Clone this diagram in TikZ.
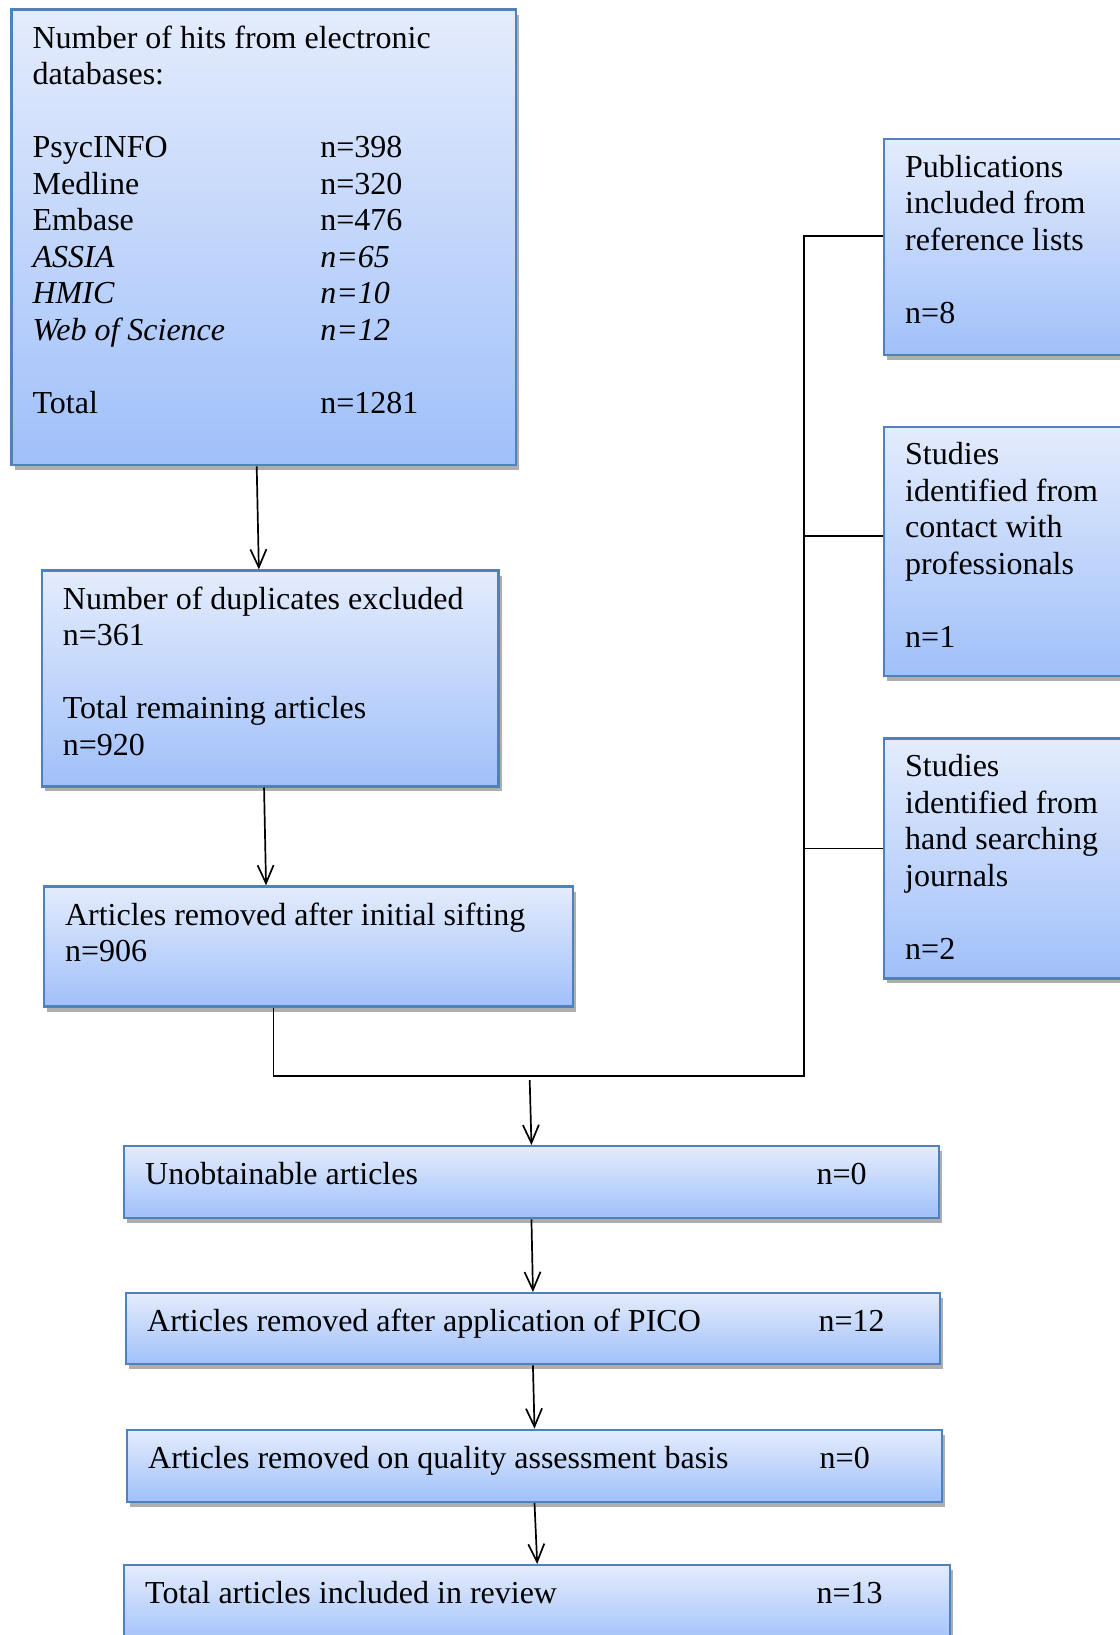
\documentclass[tikz,border=0pt]{standalone}
\usepackage{fontspec}
\setmainfont{Liberation Serif}
\usetikzlibrary{arrows.meta,shadows,calc}
\definecolor{boxtop}{RGB}{228,236,252}
\definecolor{boxbottom}{RGB}{160,192,250}
\definecolor{boxline}{RGB}{79,129,189}
\tikzset{
	flowbox/.style={draw=boxline, line width=1.2pt, top color=boxtop,
		bottom color=boxbottom, anchor=north west, inner xsep=10.5pt,
		inner ysep=8pt, drop shadow={shadow xshift=1.5pt,
		shadow yshift=-2.5pt, opacity=0.45, fill=black!70}},
	conn/.style={line width=0.85pt},
	arr/.style={conn, -{Straight Barb[length=9pt,width=8pt]}},
}
\newcommand{\boxtext}[3]{\parbox[t][#2][t]{#1}{\raggedright #3}}
\newcommand{\col}[2]{\makebox[#1][l]{#2}}
\begin{document}
\begin{tikzpicture}[x=0.5pt,y=-0.5pt,font=\fontsize{16}{18.25}\selectfont]
	\useasboundingbox (0,0) rectangle (1120,1635);
	% left column
	\node[flowbox] (hits) at (10.4,8.3) {\boxtext{231.3pt}{211.85pt}{Number
		of hits from electronic\\ databases:\\[\baselineskip]
		\col{143.9pt}{PsycINFO}n=398\\ \col{143.9pt}{Medline}n=320\\
		\col{143.9pt}{Embase}n=476\\ \col{143.9pt}{\textit{ASSIA}}\textit{n=65}\\
		\col{143.9pt}{\textit{HMIC}}\textit{n=10}\\
		\col{143.9pt}{\textit{Web of Science}}\textit{n=12}\\[\baselineskip]
		\col{143.9pt}{Total}n=1281}};
	\node[flowbox] (dup) at (40.7,569.4) {\boxtext{207.35pt}{91.9pt}{Number of
		duplicates excluded\\ n=361\\[\baselineskip] Total remaining
		articles\\ n=920}};
	\node[flowbox] (sift) at (42.8,885.3) {\boxtext{243.35pt}{44pt}{Articles
		removed after initial sifting\\ n=906}};
	% right column
	\node[flowbox] (ref) at (883,137.6) {\boxtext{109pt}{91.95pt}{Publications\\
		included from\\ reference lists\\[\baselineskip] n=8}};
	\node[flowbox] (prof) at (883,425.5) {\boxtext{109pt}{108.6pt}{Studies\\
		identified from\\ contact with\\ professionals\\[\baselineskip] n=1}};
	\node[flowbox] (hand) at (883,737.3) {\boxtext{109pt}{103.9pt}{Studies\\
		identified from\\ hand searching\\ journals\\[\baselineskip] n=2}};
	% bottom chain
	\node[flowbox] (unob) at (123,1145) {\boxtext{386.25pt}{20pt}{%
		\col{335.75pt}{Unobtainable articles}n=0}};
	\node[flowbox] (pico) at (125,1292) {\boxtext{385.75pt}{19.5pt}{%
		\col{335.75pt}{Articles removed after application of PICO}n=12}};
	\node[flowbox] (qual) at (126,1428.6) {\boxtext{386.3pt}{20pt}{%
		\col{335.75pt}{Articles removed on quality assessment basis}n=0}};
	\node[flowbox] (total) at (123,1564) {\boxtext{392pt}{24pt}{%
		\col{335.75pt}{Total articles included in review}n=13}};
	% connectors
	\coordinate (join) at (804,1076.2);
	\coordinate (split) at (529.7,1080);
	\draw[arr] ($(hits.south)+(-7.2,0)$) -- ($(dup.north)+(-11.4,0)$);
	\draw[arr] ($(dup.south)+(-6.2,0)$) -- ($(sift.north)+(-42.3,0)$);
	\draw[conn] ($(sift.south)+(-35,0)$) |- (join) |- ($(ref.west)+(0,-11)$);
	\draw[conn] (join |- {$(prof.west)+(0,-15)$}) -- ($(prof.west)+(0,-15)$);
	\draw[conn] (join |- {$(hand.west)+(0,-10)$}) -- ($(hand.west)+(0,-10)$);
	\draw[arr] (split) -- (unob.north);
	\draw[arr] (unob.south) -- (pico.north);
	\draw[arr] (pico.south) -- (qual.north);
	\draw[arr] (qual.south) -- (total.north);
\end{tikzpicture}
\end{document}
